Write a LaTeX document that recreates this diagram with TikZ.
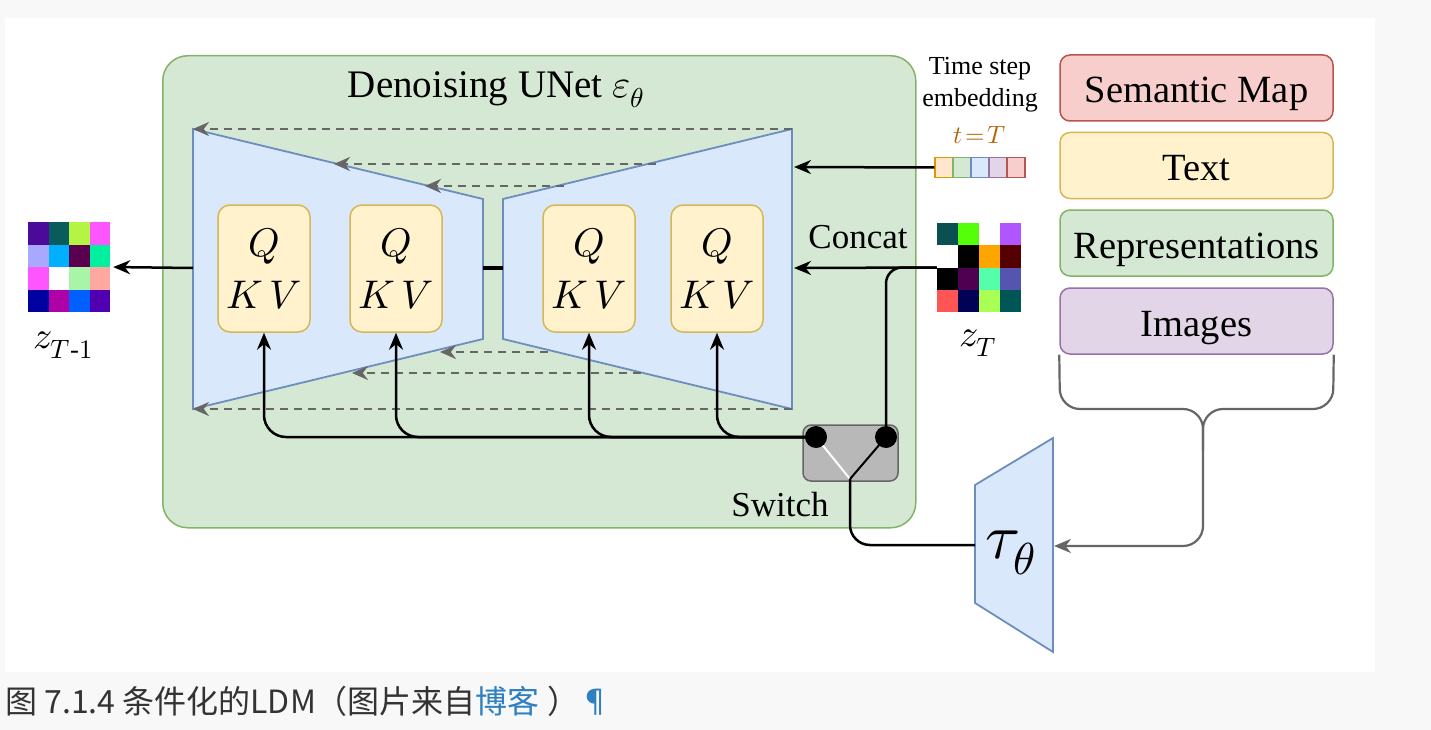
\documentclass[tikz,border=0pt]{standalone}
\usepackage{amsmath}
\usepackage{fontspec}
\usepackage{unicode-math}
\setmainfont{Liberation Serif}
\setmathfont{Latin Modern Math}
\newfontfamily\cjk{Noto Sans CJK SC}
\usetikzlibrary{arrows.meta}
\definecolor{pagebg}{HTML}{F8F8F8}
\definecolor{greenfill}{HTML}{D5E8D4}
\definecolor{greendraw}{HTML}{82B366}
\definecolor{bluefill}{HTML}{DAE8FC}
\definecolor{bluedraw}{HTML}{6C8EBF}
\definecolor{yellowfill}{HTML}{FFF2CC}
\definecolor{yellowdraw}{HTML}{D6B656}
\definecolor{redfill}{HTML}{F8CECC}
\definecolor{reddraw}{HTML}{B85450}
\definecolor{purplefill}{HTML}{E1D5E7}
\definecolor{purpledraw}{HTML}{9673A6}
\definecolor{orangefill}{HTML}{FFE6CC}
\definecolor{orangedraw}{HTML}{D79B00}
\definecolor{darkgray}{HTML}{666666}
\definecolor{switchfill}{HTML}{B8B8B8}
\definecolor{tcolor}{HTML}{B46504}
\definecolor{captext}{HTML}{333333}
\definecolor{linkblue}{HTML}{2F80C0}
\tikzset{
  container/.style={draw=greendraw, fill=greenfill, line width=1.5pt, rounded corners=25pt, inner sep=0pt},
  trap/.style={draw=bluedraw, fill=bluefill, line width=1.8pt, line join=miter},
  qkv/.style={draw=yellowdraw, fill=yellowfill, line width=1.5pt, rounded corners=12pt,
    minimum width=92pt, minimum height=127pt, align=center, inner sep=0pt,
    font=\fontsize{40}{52}\selectfont},
  srcbox/.style={line width=1.5pt, rounded corners=10pt, minimum width=273pt,
    minimum height=66pt, inner sep=0pt, text height=33pt, text depth=3pt,
    font=\fontsize{38.5}{44}\selectfont},
  embcell/.style={line width=1.5pt, minimum width=18pt, minimum height=20pt, inner sep=0pt},
  dasharr/.style={draw=darkgray, line width=2.2pt, dash pattern=on 8pt off 6pt,
    -{Stealth[length=16pt,width=14pt]}},
  bkarr/.style={draw=black, line width=2.5pt, -{Stealth[length=17pt,width=14pt]}},
  bkline/.style={draw=black, line width=2.5pt},
  grayarr/.style={draw=darkgray, line width=2.2pt, -{Stealth[length=17pt,width=14pt]}},
  dotnode/.style={circle, fill=black, minimum size=22pt, inner sep=0pt},
  lbl/.style={inner sep=0pt, font=\fontsize{35}{40}\selectfont},
}
\begin{document}
\begin{tikzpicture}[x=1pt,y=-1pt]
\useasboundingbox (0,0) rectangle (1431,730);
\fill[pagebg] (0,0) rectangle (1431,730);
\fill[white] (5,18) rectangle (1375,672);

% UNet container
\node[container, anchor=north west, minimum width=753pt, minimum height=472pt] (unet) at (162,55) {};
\node[inner sep=0pt, font=\fontsize{39}{44}\selectfont] (title) at (496,90) {Denoising UNet $\varepsilon_{\theta}$};

% encoder / decoder trapezoids
\draw[trap] (193,129) -- (483,199) -- (483,339) -- (193,409) -- cycle;
\draw[trap] (503,199) -- (792,129) -- (792,409) -- (503,339) -- cycle;
\coordinate (encL) at (193,268);
\coordinate (encR) at (483,268);
\coordinate (decL) at (503,268);
\coordinate (decR) at (794,268);
\coordinate (decRt) at (794,167);
\draw[line width=3.5pt] (encR) -- (decL);

% skip connections (dashed)
\coordinate (s1a) at (792,129); \coordinate (s1b) at (193,129);
\coordinate (s2a) at (656,164); \coordinate (s2b) at (334,164);
\coordinate (s3a) at (564,186); \coordinate (s3b) at (425,186);
\coordinate (s4a) at (548,352); \coordinate (s4b) at (440,352);
\coordinate (s5a) at (641,373); \coordinate (s5b) at (352,373);
\coordinate (s6a) at (792,409); \coordinate (s6b) at (193,409);
\foreach \i in {1,...,6} { \draw[dasharr] (s\i a) -- (s\i b); }

% QKV blocks
\node[qkv] (q1) at (264,268.5) {$Q$\\$K\,V$};
\node[qkv] (q2) at (396,268.5) {$Q$\\$K\,V$};
\node[qkv] (q3) at (589,268.5) {$Q$\\$K\,V$};
\node[qkv] (q4) at (717,268.5) {$Q$\\$K\,V$};

% switch
\node[draw=darkgray, fill=switchfill, line width=1.5pt, rounded corners=8pt,
  minimum width=95pt, minimum height=56pt, inner sep=0pt] (sw) at (850.5,453) {};
\coordinate (swj) at (850,479);
\draw[white, line width=2pt] (816,437) -- (swj);
\draw[black, line width=2pt] (886,437) -- (swj);
\node[dotnode] (sw1) at (816,437) {};
\node[dotnode] (sw2) at (886,437) {};
\node[lbl] (swl) at (780,505) {Switch};

% conditioning bus to QKV
\foreach \q in {q1,q2,q3,q4} {
  \draw[bkarr, rounded corners=22pt] (sw1.center) -| (\q.south);
}

% z_T grid
\node[minimum width=84pt, minimum height=89pt, inner sep=0pt] (zT) at (979,267.5) {};
\foreach \c [count=\i from 0] in {0A5050,55FF0A,FFFFFF,B055FF,FFFFFF,000000,FFA500,550000,000000,500050,55FFAA,5555B0,FF5555,000055,AAFF55,005555} {
  \pgfmathtruncatemacro{\col}{mod(\i,4)}
  \pgfmathtruncatemacro{\row}{int(\i/4)}
  \definecolor{cc}{HTML}{\c}
  \fill[cc] (937+21*\col,223+22.25*\row) rectangle ++(21,22.25);
}
\node[inner sep=0pt, font=\fontsize{38}{40}\selectfont] (lzT) at (978,343) {$z_{T}$};

% z_{T-1} grid
\node[minimum width=82pt, minimum height=90pt, inner sep=0pt] (zT1) at (69,267) {};
\foreach \c [count=\i from 0] in {4B0A99,0A5B5B,B3F542,FF55FF,A8A8FF,00B0FF,5A004F,00F0A0,FF55FF,FFFFFF,A8F5A8,FFA8A0,0000A0,B000A8,0060FF,5000B0} {
  \pgfmathtruncatemacro{\col}{mod(\i,4)}
  \pgfmathtruncatemacro{\row}{int(\i/4)}
  \definecolor{cc}{HTML}{\c}
  \fill[cc] (28+20.5*\col,222+22.5*\row) rectangle ++(20.5,22.5);
}
\node[inner sep=0pt, font=\fontsize{38}{40}\selectfont] (lzT1) at (63,345) {$z_{T\text{-}1}$};

% output arrow
\draw[bkarr, shorten >=3pt] (encL) -- (zT1.east);

% concat input
\draw[bkarr] (zT.west) -- (decR);
\draw[bkline, rounded corners=16pt] (zT.west) -| (sw2.center);
\node[lbl] (concat) at (858,237) {Concat};

% time step embedding
\node[inner sep=0pt, align=center, font=\fontsize{26}{32}\selectfont] (ts) at (980,85) {Time step\\embedding};
\node[inner sep=0pt, text=tcolor, font=\fontsize{25}{30}\selectfont] (tT) at (980,135) {$t\!=\!T$};
\node[embcell, draw=orangedraw, fill=orangefill] (e1) at (944,167.5) {};
\node[embcell, draw=greendraw, fill=greenfill] (e2) at (962,167.5) {};
\node[embcell, draw=bluedraw, fill=bluefill] (e3) at (980,167.5) {};
\node[embcell, draw=purpledraw, fill=purplefill] (e4) at (998,167.5) {};
\node[embcell, draw=reddraw, fill=redfill] (e5) at (1016,167.5) {};
\draw[bkarr] (e1.west) -- (decRt);

% conditioning sources
\node[srcbox, draw=reddraw, fill=redfill] (sem) at (1196.5,88) {Semantic Map};
\node[srcbox, draw=yellowdraw, fill=yellowfill] (txt) at (1196.5,165.5) {Text};
\node[srcbox, draw=greendraw, fill=greenfill] (rep) at (1196.5,243) {Representations};
\node[srcbox, draw=purpledraw, fill=purplefill] (img) at (1196.5,321) {Images};

% tau_theta encoder
\draw[trap] (975,485) -- (1053,438) -- (1053,652) -- (975,603) -- cycle;
\coordinate (tauW) at (975,545);
\coordinate (tauE) at (1054,546);
\node[inner sep=0pt, font=\fontsize{64}{70}\selectfont] (tau) at (1011,553) {$\tau_{\theta}$};

% brace into tau
\draw[grayarr, rounded corners=20pt] (img.south west) -- (1060,409) -- (1203,409) -- (1203,546) -- (tauE);
\draw[draw=darkgray, line width=2.2pt, rounded corners=20pt] (img.south east) -- (1333,409) -- (1203,409) -- (1203,450);

% switch output to tau
\draw[bkline, rounded corners=20pt] (swj) |- (tauW);

% caption
\node[anchor=base west, inner sep=0pt, text=captext, font=\cjk\fontsize{32}{36}\selectfont] (cap) at (5,713)
  {图 7.1.4 条件化的LDM（图片来自\textcolor{linkblue}{博客} ）\textcolor{linkblue}{¶}};
\end{tikzpicture}
\end{document}
